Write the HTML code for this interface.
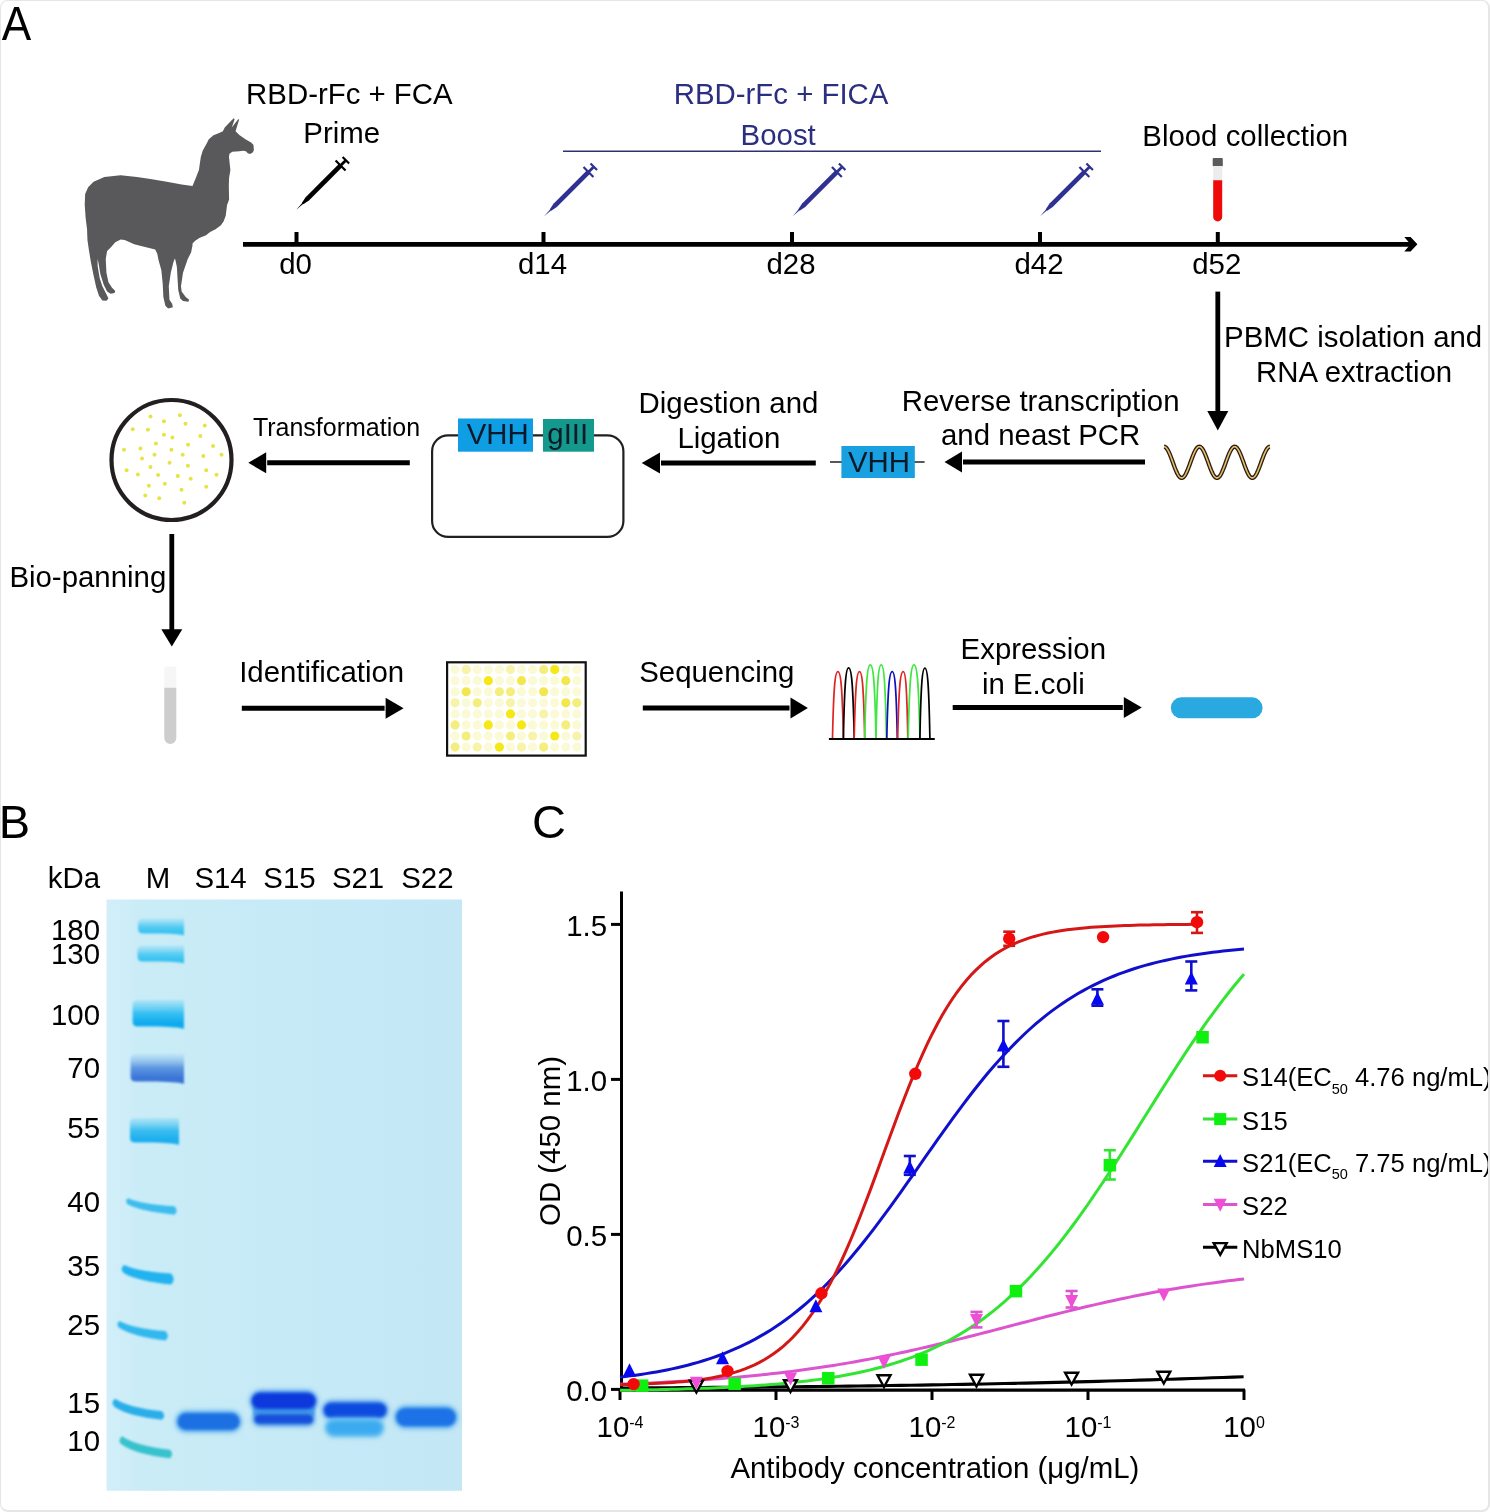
<!DOCTYPE html><html><head><meta charset="utf-8"><style>html,body{margin:0;padding:0;background:#fff;} .fr{position:absolute;left:0;top:0;width:1490px;height:1512px;box-sizing:border-box;border-style:solid;border-color:#e6e6e6;border-width:1px 2px 2px 1px;border-radius:8px;pointer-events:none;} svg{position:absolute;left:0;top:0;will-change:transform;} text{font-family:"Liberation Sans",sans-serif;}</style></head><body>
<svg width="1490" height="1512" viewBox="0 0 1490 1512">
<defs><filter id="blur1" x="-20%" y="-50%" width="140%" height="200%"><feGaussianBlur stdDeviation="1.6"/></filter><filter id="blur2" x="-20%" y="-50%" width="140%" height="200%"><feGaussianBlur stdDeviation="2.4"/></filter><filter id="bl1_0" x="-30%" y="-100%" width="160%" height="300%"><feGaussianBlur stdDeviation="1.0"/></filter><filter id="bl1_1" x="-30%" y="-100%" width="160%" height="300%"><feGaussianBlur stdDeviation="1.1"/></filter><filter id="bl1_6" x="-30%" y="-100%" width="160%" height="300%"><feGaussianBlur stdDeviation="1.6"/></filter><filter id="bl2_5" x="-30%" y="-100%" width="160%" height="300%"><feGaussianBlur stdDeviation="2.5"/></filter><filter id="bl0_7" x="-50%" y="-50%" width="200%" height="200%"><feGaussianBlur stdDeviation="0.7"/></filter><filter id="bl0_5" x="-50%" y="-50%" width="200%" height="200%"><feGaussianBlur stdDeviation="0.5"/></filter><filter id="bl2_2" x="-30%" y="-100%" width="160%" height="300%"><feGaussianBlur stdDeviation="2.2"/></filter><filter id="blur05"><feGaussianBlur stdDeviation="0.5"/></filter></defs>
<text transform="translate(1.7,39.9) scale(0.94,1.04)" x="0" y="0" font-size="47">A</text>
<text x="-1.2" y="837.7" font-size="47" fill="#000" text-anchor="start" >B</text>
<text x="532.1" y="837.7" font-size="47" fill="#000" text-anchor="start" >C</text>
<line x1="243" y1="244.3" x2="1412" y2="244.3" stroke="#000" stroke-width="4.7"/>
<path d="M1404.3,237.1 L1410.6,237.1 L1417.4,244.3 L1410.6,251.6 L1404.3,251.6 L1410.5,244.3 Z" fill="#000"/>
<rect x="294.5" y="232" width="4" height="12" fill="#000"/>
<text x="295.5" y="274.0" font-size="29.4" fill="#000" text-anchor="middle" >d0</text>
<rect x="541.5" y="232" width="4" height="12" fill="#000"/>
<text x="542.5" y="274.0" font-size="29.4" fill="#000" text-anchor="middle" >d14</text>
<rect x="790.0" y="232" width="4" height="12" fill="#000"/>
<text x="791.0" y="274.0" font-size="29.4" fill="#000" text-anchor="middle" >d28</text>
<rect x="1038.0" y="232" width="4" height="12" fill="#000"/>
<text x="1039.0" y="274.0" font-size="29.4" fill="#000" text-anchor="middle" >d42</text>
<rect x="1215.8" y="232" width="4" height="12" fill="#000"/>
<text x="1216.8" y="274.0" font-size="29.4" fill="#000" text-anchor="middle" >d52</text>
<text x="246.1" y="103.8" font-size="29.4" fill="#000" text-anchor="start" >RBD-rFc + FCA</text>
<text x="303.3" y="142.5" font-size="29.4" fill="#000" text-anchor="start" >Prime</text>
<text x="673.7" y="103.8" font-size="29.4" fill="#2c2f80" text-anchor="start" >RBD-rFc + FICA</text>
<text x="740.6" y="145.4" font-size="29.4" fill="#2c2f80" text-anchor="start" >Boost</text>
<line x1="563" y1="151.3" x2="1101" y2="151.3" stroke="#2f3074" stroke-width="1.6"/>
<text x="1142.3" y="146.0" font-size="29.4" fill="#000" text-anchor="start" >Blood collection</text>
<g transform="translate(296.3,209.8) rotate(-45)" fill="#000"><path d="M0,0 L10,-0.8 L10,0.8 Z"/><path d="M9,-1 L16,-2.35 L16,2.35 L9,1 Z"/><rect x="15.5" y="-2.35" width="47" height="4.7"/><rect x="61.5" y="-7" width="2.2" height="14"/><rect x="63" y="-1.4" width="6.5" height="2.8"/><rect x="69" y="-4.6" width="2.2" height="9.2"/></g>
<g transform="translate(544.2,216.3) rotate(-45)" fill="#2e3192"><path d="M0,0 L10,-0.8 L10,0.8 Z"/><path d="M9,-1 L16,-2.35 L16,2.35 L9,1 Z"/><rect x="15.5" y="-2.35" width="47" height="4.7"/><rect x="61.5" y="-7" width="2.2" height="14"/><rect x="63" y="-1.4" width="6.5" height="2.8"/><rect x="69" y="-4.6" width="2.2" height="9.2"/></g>
<g transform="translate(792.6,216.3) rotate(-45)" fill="#2e3192"><path d="M0,0 L10,-0.8 L10,0.8 Z"/><path d="M9,-1 L16,-2.35 L16,2.35 L9,1 Z"/><rect x="15.5" y="-2.35" width="47" height="4.7"/><rect x="61.5" y="-7" width="2.2" height="14"/><rect x="63" y="-1.4" width="6.5" height="2.8"/><rect x="69" y="-4.6" width="2.2" height="9.2"/></g>
<g transform="translate(1040.1,216.3) rotate(-45)" fill="#2e3192"><path d="M0,0 L10,-0.8 L10,0.8 Z"/><path d="M9,-1 L16,-2.35 L16,2.35 L9,1 Z"/><rect x="15.5" y="-2.35" width="47" height="4.7"/><rect x="61.5" y="-7" width="2.2" height="14"/><rect x="63" y="-1.4" width="6.5" height="2.8"/><rect x="69" y="-4.6" width="2.2" height="9.2"/></g>
<rect x="1212.7" y="158" width="10.1" height="8.5" rx="1" fill="#5b5b5b"/>
<rect x="1213.2" y="166" width="9" height="14.5" fill="#ececec"/>
<path d="M1213.2,180.3 L1222.2,180.3 L1222.2,216.9 A4.5,4.5 0 0 1 1213.2,216.9 Z" fill="#ee0a0a"/>
<line x1="1217.8" y1="291.6" x2="1217.8" y2="412" stroke="#000" stroke-width="4.8"/><path d="M1207.3,411 L1228.3,411 L1217.8,430.5 Z" fill="#000"/>
<text x="1224.1" y="346.6" font-size="29.4" fill="#000" text-anchor="start" >PBMC isolation and</text>
<text x="1256.1" y="382.0" font-size="29.4" fill="#000" text-anchor="start" >RNA extraction</text>
<path d="M1164.00,446.70 L1164.35,446.73 L1164.71,446.82 L1165.06,446.98 L1165.41,447.19 L1165.77,447.46 L1166.12,447.80 L1166.47,448.18 L1166.83,448.63 L1167.18,449.13 L1167.53,449.68 L1167.89,450.28 L1168.24,450.93 L1168.59,451.62 L1168.95,452.36 L1169.30,453.13 L1169.65,453.94 L1170.01,454.79 L1170.36,455.66 L1170.71,456.56 L1171.07,457.48 L1171.42,458.42 L1171.77,459.38 L1172.13,460.35 L1172.48,461.32 L1172.83,462.30 L1173.19,463.28 L1173.54,464.26 L1173.89,465.23 L1174.25,466.18 L1174.60,467.12 L1174.95,468.05 L1175.31,468.94 L1175.66,469.82 L1176.01,470.66 L1176.37,471.47 L1176.72,472.25 L1177.07,472.98 L1177.43,473.67 L1177.78,474.32 L1178.13,474.92 L1178.49,475.47 L1178.84,475.97 L1179.19,476.42 L1179.55,476.81 L1179.90,477.14 L1180.25,477.41 L1180.61,477.62 L1180.96,477.78 L1181.31,477.87 L1181.67,477.90 L1182.02,477.87 L1182.37,477.78 L1182.73,477.62 L1183.08,477.41 L1183.43,477.13 L1183.79,476.80 L1184.14,476.41 L1184.49,475.97 L1184.85,475.47 L1185.20,474.92 L1185.55,474.32 L1185.91,473.67 L1186.26,472.97 L1186.61,472.24 L1186.97,471.46 L1187.32,470.65 L1187.67,469.81 L1188.03,468.94 L1188.38,468.04 L1188.73,467.11 L1189.09,466.17 L1189.44,465.22 L1189.79,464.25 L1190.15,463.27 L1190.50,462.29 L1190.85,461.31 L1191.21,460.34 L1191.56,459.37 L1191.91,458.41 L1192.27,457.47 L1192.62,456.55 L1192.97,455.65 L1193.33,454.78 L1193.68,453.93 L1194.03,453.12 L1194.39,452.35 L1194.74,451.62 L1195.09,450.92 L1195.45,450.27 L1195.80,449.67 L1196.15,449.12 L1196.51,448.63 L1196.86,448.18 L1197.21,447.79 L1197.57,447.46 L1197.92,447.19 L1198.27,446.97 L1198.63,446.82 L1198.98,446.73 L1199.33,446.70 L1199.69,446.73 L1200.04,446.82 L1200.39,446.98 L1200.75,447.19 L1201.10,447.47 L1201.45,447.80 L1201.81,448.19 L1202.16,448.63 L1202.51,449.13 L1202.87,449.69 L1203.22,450.29 L1203.57,450.94 L1203.93,451.63 L1204.28,452.36 L1204.63,453.14 L1204.99,453.95 L1205.34,454.79 L1205.69,455.67 L1206.05,456.57 L1206.40,457.49 L1206.75,458.43 L1207.11,459.39 L1207.46,460.36 L1207.81,461.33 L1208.17,462.31 L1208.52,463.29 L1208.87,464.27 L1209.23,465.23 L1209.58,466.19 L1209.93,467.13 L1210.29,468.05 L1210.64,468.95 L1210.99,469.83 L1211.35,470.67 L1211.70,471.48 L1212.05,472.25 L1212.41,472.99 L1212.76,473.68 L1213.11,474.33 L1213.47,474.93 L1213.82,475.48 L1214.17,475.98 L1214.53,476.42 L1214.88,476.81 L1215.23,477.14 L1215.59,477.41 L1215.94,477.63 L1216.29,477.78 L1216.65,477.87 L1217.00,477.90 L1217.35,477.87 L1217.71,477.78 L1218.06,477.62 L1218.41,477.41 L1218.77,477.13 L1219.12,476.80 L1219.47,476.41 L1219.83,475.96 L1220.18,475.46 L1220.53,474.91 L1220.89,474.31 L1221.24,473.66 L1221.59,472.97 L1221.95,472.23 L1222.30,471.46 L1222.65,470.65 L1223.01,469.80 L1223.36,468.93 L1223.71,468.03 L1224.07,467.11 L1224.42,466.16 L1224.77,465.21 L1225.13,464.24 L1225.48,463.26 L1225.83,462.28 L1226.19,461.30 L1226.54,460.33 L1226.89,459.36 L1227.25,458.40 L1227.60,457.46 L1227.95,456.54 L1228.31,455.64 L1228.66,454.77 L1229.01,453.93 L1229.37,453.12 L1229.72,452.34 L1230.07,451.61 L1230.43,450.92 L1230.78,450.27 L1231.13,449.67 L1231.49,449.12 L1231.84,448.62 L1232.19,448.18 L1232.55,447.79 L1232.90,447.46 L1233.25,447.19 L1233.61,446.97 L1233.96,446.82 L1234.31,446.73 L1234.67,446.70 L1235.02,446.73 L1235.37,446.83 L1235.73,446.98 L1236.08,447.19 L1236.43,447.47 L1236.79,447.80 L1237.14,448.19 L1237.49,448.64 L1237.85,449.14 L1238.20,449.69 L1238.55,450.29 L1238.91,450.94 L1239.26,451.64 L1239.61,452.37 L1239.97,453.15 L1240.32,453.96 L1240.67,454.80 L1241.03,455.68 L1241.38,456.58 L1241.73,457.50 L1242.09,458.44 L1242.44,459.40 L1242.79,460.37 L1243.15,461.34 L1243.50,462.32 L1243.85,463.30 L1244.21,464.28 L1244.56,465.24 L1244.91,466.20 L1245.27,467.14 L1245.62,468.06 L1245.97,468.96 L1246.33,469.83 L1246.68,470.68 L1247.03,471.49 L1247.39,472.26 L1247.74,472.99 L1248.09,473.69 L1248.45,474.33 L1248.80,474.93 L1249.15,475.48 L1249.51,475.98 L1249.86,476.42 L1250.21,476.81 L1250.57,477.14 L1250.92,477.42 L1251.27,477.63 L1251.63,477.78 L1251.98,477.87 L1252.33,477.90 L1252.69,477.87 L1253.04,477.77 L1253.39,477.62 L1253.75,477.40 L1254.10,477.13 L1254.45,476.80 L1254.81,476.41 L1255.16,475.96 L1255.51,475.46 L1255.87,474.91 L1256.22,474.30 L1256.57,473.66 L1256.93,472.96 L1257.28,472.22 L1257.63,471.45 L1257.99,470.64 L1258.34,469.79 L1258.69,468.92 L1259.05,468.02 L1259.40,467.10 L1259.75,466.16 L1260.11,465.20 L1260.46,464.23 L1260.81,463.25 L1261.17,462.27 L1261.52,461.29 L1261.87,460.32 L1262.23,459.35 L1262.58,458.40 L1262.93,457.45 L1263.29,456.53 L1263.64,455.63 L1263.99,454.76 L1264.35,453.92 L1264.70,453.11 L1265.05,452.34 L1265.41,451.60 L1265.76,450.91 L1266.11,450.26 L1266.47,449.66 L1266.82,449.11 L1267.17,448.62 L1267.53,448.17 L1267.88,447.79 L1268.23,447.46 L1268.59,447.18 L1268.94,446.97 L1269.29,446.82 L1269.65,446.73 L1270.00,446.70" fill="none" stroke="#2a1c12" stroke-width="4.2" stroke-linecap="butt"/>
<path d="M1164.00,446.70 L1164.35,446.73 L1164.71,446.82 L1165.06,446.98 L1165.41,447.19 L1165.77,447.46 L1166.12,447.80 L1166.47,448.18 L1166.83,448.63 L1167.18,449.13 L1167.53,449.68 L1167.89,450.28 L1168.24,450.93 L1168.59,451.62 L1168.95,452.36 L1169.30,453.13 L1169.65,453.94 L1170.01,454.79 L1170.36,455.66 L1170.71,456.56 L1171.07,457.48 L1171.42,458.42 L1171.77,459.38 L1172.13,460.35 L1172.48,461.32 L1172.83,462.30 L1173.19,463.28 L1173.54,464.26 L1173.89,465.23 L1174.25,466.18 L1174.60,467.12 L1174.95,468.05 L1175.31,468.94 L1175.66,469.82 L1176.01,470.66 L1176.37,471.47 L1176.72,472.25 L1177.07,472.98 L1177.43,473.67 L1177.78,474.32 L1178.13,474.92 L1178.49,475.47 L1178.84,475.97 L1179.19,476.42 L1179.55,476.81 L1179.90,477.14 L1180.25,477.41 L1180.61,477.62 L1180.96,477.78 L1181.31,477.87 L1181.67,477.90 L1182.02,477.87 L1182.37,477.78 L1182.73,477.62 L1183.08,477.41 L1183.43,477.13 L1183.79,476.80 L1184.14,476.41 L1184.49,475.97 L1184.85,475.47 L1185.20,474.92 L1185.55,474.32 L1185.91,473.67 L1186.26,472.97 L1186.61,472.24 L1186.97,471.46 L1187.32,470.65 L1187.67,469.81 L1188.03,468.94 L1188.38,468.04 L1188.73,467.11 L1189.09,466.17 L1189.44,465.22 L1189.79,464.25 L1190.15,463.27 L1190.50,462.29 L1190.85,461.31 L1191.21,460.34 L1191.56,459.37 L1191.91,458.41 L1192.27,457.47 L1192.62,456.55 L1192.97,455.65 L1193.33,454.78 L1193.68,453.93 L1194.03,453.12 L1194.39,452.35 L1194.74,451.62 L1195.09,450.92 L1195.45,450.27 L1195.80,449.67 L1196.15,449.12 L1196.51,448.63 L1196.86,448.18 L1197.21,447.79 L1197.57,447.46 L1197.92,447.19 L1198.27,446.97 L1198.63,446.82 L1198.98,446.73 L1199.33,446.70 L1199.69,446.73 L1200.04,446.82 L1200.39,446.98 L1200.75,447.19 L1201.10,447.47 L1201.45,447.80 L1201.81,448.19 L1202.16,448.63 L1202.51,449.13 L1202.87,449.69 L1203.22,450.29 L1203.57,450.94 L1203.93,451.63 L1204.28,452.36 L1204.63,453.14 L1204.99,453.95 L1205.34,454.79 L1205.69,455.67 L1206.05,456.57 L1206.40,457.49 L1206.75,458.43 L1207.11,459.39 L1207.46,460.36 L1207.81,461.33 L1208.17,462.31 L1208.52,463.29 L1208.87,464.27 L1209.23,465.23 L1209.58,466.19 L1209.93,467.13 L1210.29,468.05 L1210.64,468.95 L1210.99,469.83 L1211.35,470.67 L1211.70,471.48 L1212.05,472.25 L1212.41,472.99 L1212.76,473.68 L1213.11,474.33 L1213.47,474.93 L1213.82,475.48 L1214.17,475.98 L1214.53,476.42 L1214.88,476.81 L1215.23,477.14 L1215.59,477.41 L1215.94,477.63 L1216.29,477.78 L1216.65,477.87 L1217.00,477.90 L1217.35,477.87 L1217.71,477.78 L1218.06,477.62 L1218.41,477.41 L1218.77,477.13 L1219.12,476.80 L1219.47,476.41 L1219.83,475.96 L1220.18,475.46 L1220.53,474.91 L1220.89,474.31 L1221.24,473.66 L1221.59,472.97 L1221.95,472.23 L1222.30,471.46 L1222.65,470.65 L1223.01,469.80 L1223.36,468.93 L1223.71,468.03 L1224.07,467.11 L1224.42,466.16 L1224.77,465.21 L1225.13,464.24 L1225.48,463.26 L1225.83,462.28 L1226.19,461.30 L1226.54,460.33 L1226.89,459.36 L1227.25,458.40 L1227.60,457.46 L1227.95,456.54 L1228.31,455.64 L1228.66,454.77 L1229.01,453.93 L1229.37,453.12 L1229.72,452.34 L1230.07,451.61 L1230.43,450.92 L1230.78,450.27 L1231.13,449.67 L1231.49,449.12 L1231.84,448.62 L1232.19,448.18 L1232.55,447.79 L1232.90,447.46 L1233.25,447.19 L1233.61,446.97 L1233.96,446.82 L1234.31,446.73 L1234.67,446.70 L1235.02,446.73 L1235.37,446.83 L1235.73,446.98 L1236.08,447.19 L1236.43,447.47 L1236.79,447.80 L1237.14,448.19 L1237.49,448.64 L1237.85,449.14 L1238.20,449.69 L1238.55,450.29 L1238.91,450.94 L1239.26,451.64 L1239.61,452.37 L1239.97,453.15 L1240.32,453.96 L1240.67,454.80 L1241.03,455.68 L1241.38,456.58 L1241.73,457.50 L1242.09,458.44 L1242.44,459.40 L1242.79,460.37 L1243.15,461.34 L1243.50,462.32 L1243.85,463.30 L1244.21,464.28 L1244.56,465.24 L1244.91,466.20 L1245.27,467.14 L1245.62,468.06 L1245.97,468.96 L1246.33,469.83 L1246.68,470.68 L1247.03,471.49 L1247.39,472.26 L1247.74,472.99 L1248.09,473.69 L1248.45,474.33 L1248.80,474.93 L1249.15,475.48 L1249.51,475.98 L1249.86,476.42 L1250.21,476.81 L1250.57,477.14 L1250.92,477.42 L1251.27,477.63 L1251.63,477.78 L1251.98,477.87 L1252.33,477.90 L1252.69,477.87 L1253.04,477.77 L1253.39,477.62 L1253.75,477.40 L1254.10,477.13 L1254.45,476.80 L1254.81,476.41 L1255.16,475.96 L1255.51,475.46 L1255.87,474.91 L1256.22,474.30 L1256.57,473.66 L1256.93,472.96 L1257.28,472.22 L1257.63,471.45 L1257.99,470.64 L1258.34,469.79 L1258.69,468.92 L1259.05,468.02 L1259.40,467.10 L1259.75,466.16 L1260.11,465.20 L1260.46,464.23 L1260.81,463.25 L1261.17,462.27 L1261.52,461.29 L1261.87,460.32 L1262.23,459.35 L1262.58,458.40 L1262.93,457.45 L1263.29,456.53 L1263.64,455.63 L1263.99,454.76 L1264.35,453.92 L1264.70,453.11 L1265.05,452.34 L1265.41,451.60 L1265.76,450.91 L1266.11,450.26 L1266.47,449.66 L1266.82,449.11 L1267.17,448.62 L1267.53,448.17 L1267.88,447.79 L1268.23,447.46 L1268.59,447.18 L1268.94,446.97 L1269.29,446.82 L1269.65,446.73 L1270.00,446.70" fill="none" stroke="#e6bf6a" stroke-width="1.6"/>
<line x1="1145" y1="462" x2="963" y2="462" stroke="#000" stroke-width="5"/><path d="M962,451.5 L962,472.5 L944.5,462 Z" fill="#000"/>
<text x="901.8" y="411.0" font-size="29.4" fill="#000" text-anchor="start" >Reverse transcription</text>
<text x="941.0" y="444.9" font-size="29.4" fill="#000" text-anchor="start" >and neast PCR</text>
<line x1="830" y1="462" x2="924.6" y2="462" stroke="#231f20" stroke-width="1.6"/>
<rect x="841.4" y="446" width="73.4" height="32" fill="#18a0e0"/>
<text x="847.9" y="471.6" font-size="29.4" fill="#0b1a2a" text-anchor="start" >VHH</text>
<line x1="815.8" y1="463" x2="661" y2="463" stroke="#000" stroke-width="5"/><path d="M660,452.5 L660,473.5 L641.7,463 Z" fill="#000"/>
<text x="638.6" y="412.9" font-size="29.4" fill="#000" text-anchor="start" >Digestion and</text>
<text x="677.4" y="447.6" font-size="29.4" fill="#000" text-anchor="start" >Ligation</text>
<rect x="432.1" y="435.4" width="191.3" height="101.5" rx="16" fill="none" stroke="#231f20" stroke-width="2.2"/>
<rect x="458" y="418.5" width="75" height="33.2" fill="#0f9de4"/>
<rect x="543" y="419" width="51" height="32.7" fill="#149a8c"/>
<text x="466.7" y="443.6" font-size="29.4" fill="#0b1a2a" text-anchor="start" >VHH</text>
<text x="547.3" y="444.0" font-size="29.4" fill="#0b1a2a" text-anchor="start" >gIII</text>
<line x1="409.8" y1="462.8" x2="267.2" y2="462.8" stroke="#000" stroke-width="5"/><path d="M266.2,452.3 L266.2,473.3 L248.3,462.8 Z" fill="#000"/>
<text x="252.9" y="436.0" font-size="25" fill="#000" text-anchor="start" >Transformation</text>
<circle cx="171.5" cy="460" r="60" fill="#fff" stroke="#231f20" stroke-width="4.2"/>
<circle cx="150.47" cy="416.60" r="2.0" fill="#e6e445" filter="url(#bl0_5)"/>
<circle cx="179.89" cy="415.19" r="2.0" fill="#e6e445" filter="url(#bl0_5)"/>
<circle cx="163.91" cy="421.30" r="2.0" fill="#e6e445" filter="url(#bl0_5)"/>
<circle cx="185.53" cy="423.83" r="2.0" fill="#e6e445" filter="url(#bl0_5)"/>
<circle cx="204.79" cy="425.53" r="2.0" fill="#e6e445" filter="url(#bl0_5)"/>
<circle cx="132.71" cy="429.29" r="2.0" fill="#e6e445" filter="url(#bl0_5)"/>
<circle cx="147.93" cy="429.76" r="2.0" fill="#e6e445" filter="url(#bl0_5)"/>
<circle cx="163.91" cy="434.64" r="2.0" fill="#e6e445" filter="url(#bl0_5)"/>
<circle cx="172.37" cy="437.46" r="2.0" fill="#e6e445" filter="url(#bl0_5)"/>
<circle cx="200.38" cy="436.05" r="2.0" fill="#e6e445" filter="url(#bl0_5)"/>
<circle cx="155.92" cy="443.38" r="2.0" fill="#e6e445" filter="url(#bl0_5)"/>
<circle cx="188.06" cy="444.79" r="2.0" fill="#e6e445" filter="url(#bl0_5)"/>
<circle cx="213.06" cy="445.92" r="2.0" fill="#e6e445" filter="url(#bl0_5)"/>
<circle cx="123.97" cy="449.87" r="2.0" fill="#e6e445" filter="url(#bl0_5)"/>
<circle cx="140.41" cy="448.55" r="2.0" fill="#e6e445" filter="url(#bl0_5)"/>
<circle cx="171.43" cy="449.68" r="2.0" fill="#e6e445" filter="url(#bl0_5)"/>
<circle cx="154.51" cy="454.85" r="2.0" fill="#e6e445" filter="url(#bl0_5)"/>
<circle cx="182.71" cy="454.85" r="2.0" fill="#e6e445" filter="url(#bl0_5)"/>
<circle cx="203.38" cy="456.07" r="2.0" fill="#e6e445" filter="url(#bl0_5)"/>
<circle cx="221.52" cy="454.66" r="2.0" fill="#e6e445" filter="url(#bl0_5)"/>
<circle cx="142.01" cy="458.61" r="2.0" fill="#e6e445" filter="url(#bl0_5)"/>
<circle cx="169.55" cy="462.84" r="2.0" fill="#e6e445" filter="url(#bl0_5)"/>
<circle cx="187.88" cy="465.66" r="2.0" fill="#e6e445" filter="url(#bl0_5)"/>
<circle cx="150.47" cy="466.88" r="2.0" fill="#e6e445" filter="url(#bl0_5)"/>
<circle cx="126.60" cy="470.17" r="2.0" fill="#e6e445" filter="url(#bl0_5)"/>
<circle cx="206.20" cy="470.17" r="2.0" fill="#e6e445" filter="url(#bl0_5)"/>
<circle cx="137.88" cy="474.59" r="2.0" fill="#e6e445" filter="url(#bl0_5)"/>
<circle cx="158.08" cy="475.06" r="2.0" fill="#e6e445" filter="url(#bl0_5)"/>
<circle cx="177.82" cy="476.00" r="2.0" fill="#e6e445" filter="url(#bl0_5)"/>
<circle cx="190.70" cy="478.63" r="2.0" fill="#e6e445" filter="url(#bl0_5)"/>
<circle cx="216.54" cy="474.87" r="2.0" fill="#e6e445" filter="url(#bl0_5)"/>
<circle cx="148.87" cy="485.68" r="2.0" fill="#e6e445" filter="url(#bl0_5)"/>
<circle cx="164.85" cy="483.80" r="2.0" fill="#e6e445" filter="url(#bl0_5)"/>
<circle cx="206.20" cy="486.80" r="2.0" fill="#e6e445" filter="url(#bl0_5)"/>
<circle cx="181.48" cy="489.81" r="2.0" fill="#e6e445" filter="url(#bl0_5)"/>
<circle cx="145.30" cy="495.45" r="2.0" fill="#e6e445" filter="url(#bl0_5)"/>
<circle cx="159.21" cy="498.36" r="2.0" fill="#e6e445" filter="url(#bl0_5)"/>
<circle cx="184.30" cy="502.78" r="2.0" fill="#e6e445" filter="url(#bl0_5)"/>
<line x1="171.8" y1="534" x2="171.8" y2="630.2" stroke="#000" stroke-width="4.8"/><path d="M161.3,629.2 L182.3,629.2 L171.8,646.6 Z" fill="#000"/>
<text x="9.4" y="586.9" font-size="29.4" fill="#000" text-anchor="start" >Bio-panning</text>
<rect x="164.3" y="666.6" width="12" height="22" fill="#f6f6f6"/>
<path d="M164.3,687.7 L176.3,687.7 L176.3,738 A6,6 0 0 1 164.3,738 Z" fill="#cdcdcd"/>
<line x1="241.8" y1="708.3" x2="384.6" y2="708.3" stroke="#000" stroke-width="5"/><path d="M385.6,697.8 L385.6,718.8 L403.6,708.3 Z" fill="#000"/>
<text x="239.2" y="682.0" font-size="29.4" fill="#000" text-anchor="start" >Identification</text>
<rect x="447.1" y="662.3" width="138.6" height="93.3" fill="#fff" stroke="#111" stroke-width="2.2"/>
<circle cx="455.10" cy="669.60" r="4.6" fill="#fafad6" filter="url(#bl0_7)"/>
<circle cx="466.17" cy="669.60" r="4.6" fill="#f7f3a8" filter="url(#bl0_7)"/>
<circle cx="477.24" cy="669.60" r="4.6" fill="#fafad6" filter="url(#bl0_7)"/>
<circle cx="488.31" cy="669.60" r="4.6" fill="#fafad6" filter="url(#bl0_7)"/>
<circle cx="499.38" cy="669.60" r="4.6" fill="#fafad6" filter="url(#bl0_7)"/>
<circle cx="510.45" cy="669.60" r="4.6" fill="#f7f3a8" filter="url(#bl0_7)"/>
<circle cx="521.52" cy="669.60" r="4.6" fill="#fafad6" filter="url(#bl0_7)"/>
<circle cx="532.59" cy="669.60" r="4.6" fill="#fafad6" filter="url(#bl0_7)"/>
<circle cx="543.66" cy="669.60" r="4.6" fill="#f4ee7c" filter="url(#bl0_7)"/>
<circle cx="554.73" cy="669.60" r="4.6" fill="#f6e816" filter="url(#bl0_7)"/>
<circle cx="565.80" cy="669.60" r="4.6" fill="#fafad6" filter="url(#bl0_7)"/>
<circle cx="576.87" cy="669.60" r="4.6" fill="#fafad6" filter="url(#bl0_7)"/>
<circle cx="455.10" cy="680.67" r="4.6" fill="#fafad6" filter="url(#bl0_7)"/>
<circle cx="466.17" cy="680.67" r="4.6" fill="#fafad6" filter="url(#bl0_7)"/>
<circle cx="477.24" cy="680.67" r="4.6" fill="#fafad6" filter="url(#bl0_7)"/>
<circle cx="488.31" cy="680.67" r="4.6" fill="#f6e816" filter="url(#bl0_7)"/>
<circle cx="499.38" cy="680.67" r="4.6" fill="#fafad6" filter="url(#bl0_7)"/>
<circle cx="510.45" cy="680.67" r="4.6" fill="#fafad6" filter="url(#bl0_7)"/>
<circle cx="521.52" cy="680.67" r="4.6" fill="#f2e84e" filter="url(#bl0_7)"/>
<circle cx="532.59" cy="680.67" r="4.6" fill="#fafad6" filter="url(#bl0_7)"/>
<circle cx="543.66" cy="680.67" r="4.6" fill="#fafad6" filter="url(#bl0_7)"/>
<circle cx="554.73" cy="680.67" r="4.6" fill="#fafad6" filter="url(#bl0_7)"/>
<circle cx="565.80" cy="680.67" r="4.6" fill="#f2e84e" filter="url(#bl0_7)"/>
<circle cx="576.87" cy="680.67" r="4.6" fill="#fafad6" filter="url(#bl0_7)"/>
<circle cx="455.10" cy="691.74" r="4.6" fill="#fafad6" filter="url(#bl0_7)"/>
<circle cx="466.17" cy="691.74" r="4.6" fill="#f2e84e" filter="url(#bl0_7)"/>
<circle cx="477.24" cy="691.74" r="4.6" fill="#fafad6" filter="url(#bl0_7)"/>
<circle cx="488.31" cy="691.74" r="4.6" fill="#fafad6" filter="url(#bl0_7)"/>
<circle cx="499.38" cy="691.74" r="4.6" fill="#f4ee7c" filter="url(#bl0_7)"/>
<circle cx="510.45" cy="691.74" r="4.6" fill="#f4ee7c" filter="url(#bl0_7)"/>
<circle cx="521.52" cy="691.74" r="4.6" fill="#fafad6" filter="url(#bl0_7)"/>
<circle cx="532.59" cy="691.74" r="4.6" fill="#fafad6" filter="url(#bl0_7)"/>
<circle cx="543.66" cy="691.74" r="4.6" fill="#f2e84e" filter="url(#bl0_7)"/>
<circle cx="554.73" cy="691.74" r="4.6" fill="#fafad6" filter="url(#bl0_7)"/>
<circle cx="565.80" cy="691.74" r="4.6" fill="#fafad6" filter="url(#bl0_7)"/>
<circle cx="576.87" cy="691.74" r="4.6" fill="#fafad6" filter="url(#bl0_7)"/>
<circle cx="455.10" cy="702.81" r="4.6" fill="#f7f3a8" filter="url(#bl0_7)"/>
<circle cx="466.17" cy="702.81" r="4.6" fill="#fafad6" filter="url(#bl0_7)"/>
<circle cx="477.24" cy="702.81" r="4.6" fill="#f4ee7c" filter="url(#bl0_7)"/>
<circle cx="488.31" cy="702.81" r="4.6" fill="#fafad6" filter="url(#bl0_7)"/>
<circle cx="499.38" cy="702.81" r="4.6" fill="#fafad6" filter="url(#bl0_7)"/>
<circle cx="510.45" cy="702.81" r="4.6" fill="#f7f3a8" filter="url(#bl0_7)"/>
<circle cx="521.52" cy="702.81" r="4.6" fill="#fafad6" filter="url(#bl0_7)"/>
<circle cx="532.59" cy="702.81" r="4.6" fill="#fafad6" filter="url(#bl0_7)"/>
<circle cx="543.66" cy="702.81" r="4.6" fill="#fafad6" filter="url(#bl0_7)"/>
<circle cx="554.73" cy="702.81" r="4.6" fill="#fafad6" filter="url(#bl0_7)"/>
<circle cx="565.80" cy="702.81" r="4.6" fill="#f2e84e" filter="url(#bl0_7)"/>
<circle cx="576.87" cy="702.81" r="4.6" fill="#f4ee7c" filter="url(#bl0_7)"/>
<circle cx="455.10" cy="713.88" r="4.6" fill="#fafad6" filter="url(#bl0_7)"/>
<circle cx="466.17" cy="713.88" r="4.6" fill="#fafad6" filter="url(#bl0_7)"/>
<circle cx="477.24" cy="713.88" r="4.6" fill="#fafad6" filter="url(#bl0_7)"/>
<circle cx="488.31" cy="713.88" r="4.6" fill="#fafad6" filter="url(#bl0_7)"/>
<circle cx="499.38" cy="713.88" r="4.6" fill="#fafad6" filter="url(#bl0_7)"/>
<circle cx="510.45" cy="713.88" r="4.6" fill="#f6e816" filter="url(#bl0_7)"/>
<circle cx="521.52" cy="713.88" r="4.6" fill="#fafad6" filter="url(#bl0_7)"/>
<circle cx="532.59" cy="713.88" r="4.6" fill="#fafad6" filter="url(#bl0_7)"/>
<circle cx="543.66" cy="713.88" r="4.6" fill="#f7f3a8" filter="url(#bl0_7)"/>
<circle cx="554.73" cy="713.88" r="4.6" fill="#fafad6" filter="url(#bl0_7)"/>
<circle cx="565.80" cy="713.88" r="4.6" fill="#fafad6" filter="url(#bl0_7)"/>
<circle cx="576.87" cy="713.88" r="4.6" fill="#fafad6" filter="url(#bl0_7)"/>
<circle cx="455.10" cy="724.95" r="4.6" fill="#f4ee7c" filter="url(#bl0_7)"/>
<circle cx="466.17" cy="724.95" r="4.6" fill="#fafad6" filter="url(#bl0_7)"/>
<circle cx="477.24" cy="724.95" r="4.6" fill="#fafad6" filter="url(#bl0_7)"/>
<circle cx="488.31" cy="724.95" r="4.6" fill="#f6e816" filter="url(#bl0_7)"/>
<circle cx="499.38" cy="724.95" r="4.6" fill="#fafad6" filter="url(#bl0_7)"/>
<circle cx="510.45" cy="724.95" r="4.6" fill="#fafad6" filter="url(#bl0_7)"/>
<circle cx="521.52" cy="724.95" r="4.6" fill="#f6e816" filter="url(#bl0_7)"/>
<circle cx="532.59" cy="724.95" r="4.6" fill="#fafad6" filter="url(#bl0_7)"/>
<circle cx="543.66" cy="724.95" r="4.6" fill="#fafad6" filter="url(#bl0_7)"/>
<circle cx="554.73" cy="724.95" r="4.6" fill="#fafad6" filter="url(#bl0_7)"/>
<circle cx="565.80" cy="724.95" r="4.6" fill="#f4ee7c" filter="url(#bl0_7)"/>
<circle cx="576.87" cy="724.95" r="4.6" fill="#fafad6" filter="url(#bl0_7)"/>
<circle cx="455.10" cy="736.02" r="4.6" fill="#fafad6" filter="url(#bl0_7)"/>
<circle cx="466.17" cy="736.02" r="4.6" fill="#f4ee7c" filter="url(#bl0_7)"/>
<circle cx="477.24" cy="736.02" r="4.6" fill="#fafad6" filter="url(#bl0_7)"/>
<circle cx="488.31" cy="736.02" r="4.6" fill="#fafad6" filter="url(#bl0_7)"/>
<circle cx="499.38" cy="736.02" r="4.6" fill="#fafad6" filter="url(#bl0_7)"/>
<circle cx="510.45" cy="736.02" r="4.6" fill="#f4ee7c" filter="url(#bl0_7)"/>
<circle cx="521.52" cy="736.02" r="4.6" fill="#fafad6" filter="url(#bl0_7)"/>
<circle cx="532.59" cy="736.02" r="4.6" fill="#f7f3a8" filter="url(#bl0_7)"/>
<circle cx="543.66" cy="736.02" r="4.6" fill="#fafad6" filter="url(#bl0_7)"/>
<circle cx="554.73" cy="736.02" r="4.6" fill="#f6e816" filter="url(#bl0_7)"/>
<circle cx="565.80" cy="736.02" r="4.6" fill="#fafad6" filter="url(#bl0_7)"/>
<circle cx="576.87" cy="736.02" r="4.6" fill="#f7f3a8" filter="url(#bl0_7)"/>
<circle cx="455.10" cy="747.09" r="4.6" fill="#f4ee7c" filter="url(#bl0_7)"/>
<circle cx="466.17" cy="747.09" r="4.6" fill="#fafad6" filter="url(#bl0_7)"/>
<circle cx="477.24" cy="747.09" r="4.6" fill="#f7f3a8" filter="url(#bl0_7)"/>
<circle cx="488.31" cy="747.09" r="4.6" fill="#fafad6" filter="url(#bl0_7)"/>
<circle cx="499.38" cy="747.09" r="4.6" fill="#f6e816" filter="url(#bl0_7)"/>
<circle cx="510.45" cy="747.09" r="4.6" fill="#fafad6" filter="url(#bl0_7)"/>
<circle cx="521.52" cy="747.09" r="4.6" fill="#f7f3a8" filter="url(#bl0_7)"/>
<circle cx="532.59" cy="747.09" r="4.6" fill="#fafad6" filter="url(#bl0_7)"/>
<circle cx="543.66" cy="747.09" r="4.6" fill="#f4ee7c" filter="url(#bl0_7)"/>
<circle cx="554.73" cy="747.09" r="4.6" fill="#fafad6" filter="url(#bl0_7)"/>
<circle cx="565.80" cy="747.09" r="4.6" fill="#fafad6" filter="url(#bl0_7)"/>
<circle cx="576.87" cy="747.09" r="4.6" fill="#fafad6" filter="url(#bl0_7)"/>
<line x1="642.8" y1="708" x2="789.5" y2="708" stroke="#000" stroke-width="5"/><path d="M790.5,697.5 L790.5,718.5 L807.9,708 Z" fill="#000"/>
<text x="639.2" y="682.3" font-size="29.4" fill="#000" text-anchor="start" >Sequencing</text>
<path d="M832.5,738.5 C833.58,688.4000000000001 834.93,671.7 837.9,671.7 C840.925,671.7 842.3,688.4000000000001 843.4,738.5" fill="none" stroke="#e02424" stroke-width="1.7"/>
<path d="M843.4,738.5 C844.4399999999999,685.55 845.74,667.9 848.6,667.9 C851.6800000000001,667.9 853.08,685.55 854.2,738.5" fill="none" stroke="#000" stroke-width="1.7"/>
<path d="M854.2,738.5 C855.26,688.4000000000001 856.585,671.7 859.5,671.7 C862.36,671.7 863.6600000000001,688.4000000000001 864.7,738.5" fill="none" stroke="#e02424" stroke-width="1.7"/>
<path d="M864.7,738.5 C865.82,683.3 867.22,664.9 870.3,664.9 C873.435,664.9 874.86,683.3 876,738.5" fill="none" stroke="#3ee83e" stroke-width="1.7"/>
<path d="M876,738.5 C877.04,683.3 878.34,664.9 881.2,664.9 C884.0600000000001,664.9 885.36,683.3 886.4,738.5" fill="none" stroke="#3ee83e" stroke-width="1.7"/>
<path d="M886.8,738.5 C887.88,688.4000000000001 889.23,671.7 892.2,671.7 C895.005,671.7 896.28,688.4000000000001 897.3,738.5" fill="none" stroke="#1010c0" stroke-width="1.7"/>
<path d="M897.7,738.5 C898.8000000000001,688.4000000000001 900.1750000000001,671.7 903.2,671.7 C905.73,671.7 906.88,688.4000000000001 907.8,738.5" fill="none" stroke="#e02424" stroke-width="1.7"/>
<path d="M908.2,738.5 C909.36,683.3 910.8100000000001,664.9 914,664.9 C917.245,664.9 918.72,683.3 919.9,738.5" fill="none" stroke="#3ee83e" stroke-width="1.7"/>
<path d="M919.9,738.5 C920.9,685.7 922.15,668.1 924.9,668.1 C927.65,668.1 928.9,685.7 929.9,738.5" fill="none" stroke="#000" stroke-width="1.7"/>
<line x1="828.9" y1="739.0" x2="934.8" y2="739.0" stroke="#000" stroke-width="2"/>
<line x1="952.7" y1="707.6" x2="1122.8" y2="707.6" stroke="#000" stroke-width="5"/><path d="M1123.8,697.1 L1123.8,718.1 L1141.8,707.6 Z" fill="#000"/>
<text x="960.6" y="658.7" font-size="29.4" fill="#000" text-anchor="start" >Expression</text>
<text x="981.9" y="693.5" font-size="29.4" fill="#000" text-anchor="start" >in E.coli</text>
<rect x="1170.8" y="697.3" width="91.8" height="21" rx="10.5" fill="#2aa9e0"/>
<text x="47.8" y="888.3" font-size="29.4" fill="#000" text-anchor="start" >kDa</text>
<text x="145.8" y="888.3" font-size="29.4" fill="#000" text-anchor="start" >M</text>
<text x="194.4" y="888.3" font-size="29.4" fill="#000" text-anchor="start" >S14</text>
<text x="263.3" y="888.3" font-size="29.4" fill="#000" text-anchor="start" >S15</text>
<text x="331.9" y="888.3" font-size="29.4" fill="#000" text-anchor="start" >S21</text>
<text x="401.2" y="888.3" font-size="29.4" fill="#000" text-anchor="start" >S22</text>
<defs><linearGradient id="gelg" x1="0" y1="0" x2="1" y2="0"><stop offset="0" stop-color="#d2eff9"/><stop offset="0.1" stop-color="#caecf7"/><stop offset="0.5" stop-color="#c6eaf6"/><stop offset="1" stop-color="#c3e7f5"/></linearGradient></defs><rect x="106.5" y="899.5" width="355.5" height="591.3" fill="url(#gelg)"/>
<text x="100.0" y="939.8" font-size="29.4" fill="#000" text-anchor="end" >180</text>
<text x="100.0" y="964.0" font-size="29.4" fill="#000" text-anchor="end" >130</text>
<text x="100.0" y="1025.2" font-size="29.4" fill="#000" text-anchor="end" >100</text>
<text x="100.0" y="1078.3" font-size="29.4" fill="#000" text-anchor="end" >70</text>
<text x="100.0" y="1138.3" font-size="29.4" fill="#000" text-anchor="end" >55</text>
<text x="100.0" y="1212.4" font-size="29.4" fill="#000" text-anchor="end" >40</text>
<text x="100.0" y="1276.2" font-size="29.4" fill="#000" text-anchor="end" >35</text>
<text x="100.0" y="1334.8" font-size="29.4" fill="#000" text-anchor="end" >25</text>
<text x="100.0" y="1413.1" font-size="29.4" fill="#000" text-anchor="end" >15</text>
<text x="100.0" y="1450.8" font-size="29.4" fill="#000" text-anchor="end" >10</text>
<defs><linearGradient id="g1" x1="0" y1="0" x2="0" y2="1"><stop offset="0" stop-color="#78d4f4" stop-opacity="0.25"/><stop offset="0.45" stop-color="#5ccdf2"/><stop offset="0.8" stop-color="#36c2f0"/><stop offset="1" stop-color="#36c2f0"/></linearGradient></defs><path d="M143,918.5 L184,918.5 L184,935.5 Q180,934.1 161.0,933.5 L143,933.5 Q138,933.5 138,928.5 L138,923.5 Q138,918.5 143,918.5 Z" fill="url(#g1)" filter="url(#bl1_1)"/>
<defs><linearGradient id="g2" x1="0" y1="0" x2="0" y2="1"><stop offset="0" stop-color="#78d4f4" stop-opacity="0.25"/><stop offset="0.45" stop-color="#5ccdf2"/><stop offset="0.8" stop-color="#36c2f0"/><stop offset="1" stop-color="#36c2f0"/></linearGradient></defs><path d="M142.5,945.5 L184,945.5 L184,963.5 Q180,962.1 160.75,961.5 L142.5,961.5 Q137.5,961.5 137.5,956.5 L137.5,950.5 Q137.5,945.5 142.5,945.5 Z" fill="url(#g2)" filter="url(#bl1_1)"/>
<defs><linearGradient id="g3" x1="0" y1="0" x2="0" y2="1"><stop offset="0" stop-color="#5ccbf3" stop-opacity="0.25"/><stop offset="0.45" stop-color="#38c0f2"/><stop offset="0.8" stop-color="#0faaee"/><stop offset="1" stop-color="#0faaee"/></linearGradient></defs><path d="M137.6,1000 L184,1000 L184,1029.0 Q180,1027.25 158.3,1026.5 L137.6,1026.5 Q132.6,1026.5 132.6,1021.5 L132.6,1005 Q132.6,1000 137.6,1000 Z" fill="url(#g3)" filter="url(#bl1_1)"/>
<defs><linearGradient id="g4" x1="0" y1="0" x2="0" y2="1"><stop offset="0" stop-color="#98c8f0" stop-opacity="0.25"/><stop offset="0.45" stop-color="#5e98e2"/><stop offset="0.8" stop-color="#3a74d6"/><stop offset="1" stop-color="#3a74d6"/></linearGradient></defs><path d="M135.6,1054 L184,1054 L184,1084.0 Q180,1082.25 157.3,1081.5 L135.6,1081.5 Q130.6,1081.5 130.6,1076.5 L130.6,1059 Q130.6,1054 135.6,1054 Z" fill="url(#g4)" filter="url(#bl1_1)"/>
<defs><linearGradient id="g5" x1="0" y1="0" x2="0" y2="1"><stop offset="0" stop-color="#60ccf3" stop-opacity="0.25"/><stop offset="0.45" stop-color="#3cbef0"/><stop offset="0.8" stop-color="#1eaeee"/><stop offset="1" stop-color="#1eaeee"/></linearGradient></defs><path d="M135,1118 L179,1118 L179,1145.0 Q175,1143.25 154.5,1142.5 L135,1142.5 Q130,1142.5 130,1137.5 L130,1123 Q130,1118 135,1118 Z" fill="url(#g5)" filter="url(#bl1_1)"/>
<path d="M128,1198.2125 Q141.95,1204.16125 174.5,1206.15 Q178.75,1210.4 174.5,1214.65 Q141.95,1211.59875 128,1204.5875 Q124.175,1201.4 128,1198.2125 Z" fill="#3cbcee" filter="url(#bl1_0)"/>
<path d="M124,1264.875 Q138.1,1271.3875 171,1273.5 Q176.5,1279 171,1284.5 Q138.1,1281.0125 124,1273.125 Q119.05,1269 124,1264.875 Z" fill="#22b2ef" filter="url(#bl1_0)"/>
<path d="M119.5,1320.9375 Q133.3,1328.47975 165.5,1331.05 Q170.25,1335.8 165.5,1340.55 Q133.3,1336.79225 119.5,1328.0625 Q115.225,1324.5 119.5,1320.9375 Z" fill="#30b8ee" filter="url(#bl1_0)"/>
<path d="M115,1398.75 Q129.1,1407.75 162,1411.25 Q166.25,1415.5 162,1419.75 Q129.1,1416.25 115,1407.25 Q109.9,1403 115,1398.75 Z" fill="#2aaeea" filter="url(#bl1_0)"/>
<path d="M122,1436.25 Q136.4,1445.97 170,1449.75 Q174.25,1454 170,1458.25 Q136.4,1454.47 122,1444.75 Q116.9,1440.5 122,1436.25 Z" fill="#38c2cc" filter="url(#bl1_0)"/>
<rect x="175.7" y="1410.7" width="65.80000000000001" height="21.59999999999991" rx="10.799999999999955" fill="#58acee" filter="url(#bl2_5)"/><rect x="177.7" y="1413.2" width="61.80000000000001" height="16.59999999999991" rx="8.299999999999955" fill="#1e70e2" filter="url(#bl1_6)"/>
<rect x="253" y="1406" width="62" height="10" fill="#4aa8ee" filter="url(#bl1_6)"/>
<rect x="250.2" y="1390.8" width="67.10000000000002" height="20.40000000000009" rx="10.200000000000045" fill="#2f7ee6" filter="url(#bl2_5)"/><rect x="252.2" y="1393.3" width="63.10000000000002" height="15.400000000000091" rx="7.7000000000000455" fill="#0838dc" filter="url(#bl1_6)"/>
<rect x="252.7" y="1412.0" width="62.10000000000002" height="14.099999999999909" rx="7.0499999999999545" fill="#3d8ee8" filter="url(#bl2_5)"/><rect x="254.7" y="1414.5" width="58.10000000000002" height="9.099999999999909" rx="4.5499999999999545" fill="#1450dc" filter="url(#bl1_6)"/>
<rect x="322.3" y="1400.8" width="65.69999999999999" height="19.100000000000136" rx="9.550000000000068" fill="#3a86e8" filter="url(#bl2_5)"/><rect x="324.3" y="1403.3" width="61.69999999999999" height="14.100000000000136" rx="7.050000000000068" fill="#0a4cdf" filter="url(#bl1_6)"/>
<rect x="324.7" y="1418.2" width="59.60000000000002" height="19.09999999999991" rx="9.549999999999955" fill="#6cc4f2" filter="url(#bl2_5)"/><rect x="326.7" y="1420.7" width="55.60000000000002" height="14.099999999999909" rx="7.0499999999999545" fill="#3aaaf0" filter="url(#bl2_2)"/>
<rect x="394.3" y="1405.7" width="63.30000000000001" height="22.899999999999864" rx="11.449999999999932" fill="#56aaee" filter="url(#bl2_5)"/><rect x="396.3" y="1408.2" width="59.30000000000001" height="17.899999999999864" rx="8.949999999999932" fill="#1a72e6" filter="url(#bl1_6)"/>
<line x1="621.5" y1="891.5" x2="621.5" y2="1391" stroke="#000" stroke-width="3"/>
<line x1="620" y1="1390.2" x2="1245" y2="1390.2" stroke="#000" stroke-width="3.2"/>
<line x1="611" y1="1389.4" x2="622" y2="1389.4" stroke="#000" stroke-width="3"/>
<text x="607.0" y="1401.4" font-size="29.4" fill="#000" text-anchor="end" >0.0</text>
<line x1="611" y1="1234.4" x2="622" y2="1234.4" stroke="#000" stroke-width="3"/>
<text x="607.0" y="1246.4" font-size="29.4" fill="#000" text-anchor="end" >0.5</text>
<line x1="611" y1="1079.4" x2="622" y2="1079.4" stroke="#000" stroke-width="3"/>
<text x="607.0" y="1091.4" font-size="29.4" fill="#000" text-anchor="end" >1.0</text>
<line x1="611" y1="924.4" x2="622" y2="924.4" stroke="#000" stroke-width="3"/>
<text x="607.0" y="936.4" font-size="29.4" fill="#000" text-anchor="end" >1.5</text>
<line x1="620.0" y1="1389.5" x2="620.0" y2="1400" stroke="#000" stroke-width="3"/>
<text x="620.0" y="1436.5" font-size="29.4" text-anchor="middle">10<tspan font-size="16" dy="-9">-4</tspan></text>
<line x1="776.0" y1="1389.5" x2="776.0" y2="1400" stroke="#000" stroke-width="3"/>
<text x="776.0" y="1436.5" font-size="29.4" text-anchor="middle">10<tspan font-size="16" dy="-9">-3</tspan></text>
<line x1="932.0" y1="1389.5" x2="932.0" y2="1400" stroke="#000" stroke-width="3"/>
<text x="932.0" y="1436.5" font-size="29.4" text-anchor="middle">10<tspan font-size="16" dy="-9">-2</tspan></text>
<line x1="1088.0" y1="1389.5" x2="1088.0" y2="1400" stroke="#000" stroke-width="3"/>
<text x="1088.0" y="1436.5" font-size="29.4" text-anchor="middle">10<tspan font-size="16" dy="-9">-1</tspan></text>
<line x1="1244.0" y1="1389.5" x2="1244.0" y2="1400" stroke="#000" stroke-width="3"/>
<text x="1244.0" y="1436.5" font-size="29.4" text-anchor="middle">10<tspan font-size="16" dy="-9">0</tspan></text>
<text x="730.4" y="1478.0" font-size="29.4" fill="#000" text-anchor="start" >Antibody concentration (μg/mL)</text>
<text transform="translate(560.4,1141) rotate(-90)" x="0" y="0" font-size="29.4" text-anchor="middle">OD (450 nm)</text>
<path d="M620.0,1388.00 L630.4,1387.94 L640.8,1387.89 L651.2,1387.83 L661.6,1387.76 L672.0,1387.70 L682.4,1387.64 L692.8,1387.57 L703.1,1387.50 L713.5,1387.42 L723.9,1387.35 L734.3,1387.26 L744.7,1387.18 L755.1,1387.09 L765.5,1387.00 L775.9,1386.91 L786.3,1386.81 L796.7,1386.70 L807.1,1386.59 L817.5,1386.48 L827.9,1386.36 L838.3,1386.24 L848.7,1386.11 L859.0,1385.98 L869.4,1385.84 L879.8,1385.70 L890.2,1385.55 L900.6,1385.40 L911.0,1385.24 L921.4,1385.08 L931.8,1384.91 L942.2,1384.73 L952.6,1384.55 L963.0,1384.36 L973.4,1384.17 L983.8,1383.97 L994.2,1383.76 L1004.6,1383.55 L1014.9,1383.33 L1025.3,1383.10 L1035.7,1382.87 L1046.1,1382.63 L1056.5,1382.38 L1066.9,1382.13 L1077.3,1381.87 L1087.7,1381.60 L1098.1,1381.33 L1108.5,1381.05 L1118.9,1380.76 L1129.3,1380.46 L1139.7,1380.16 L1150.1,1379.85 L1160.5,1379.53 L1170.8,1379.20 L1181.2,1378.87 L1191.6,1378.53 L1202.0,1378.18 L1212.4,1377.82 L1222.8,1377.46 L1233.2,1377.08 L1243.6,1376.70" fill="none" stroke="#000" stroke-width="3.1"/>
<path d="M620.00,1384.23 L625.20,1384.03 L630.40,1383.83 L635.60,1383.61 L640.80,1383.38 L646.00,1383.15 L651.20,1382.91 L656.40,1382.65 L661.60,1382.39 L666.80,1382.11 L672.00,1381.83 L677.20,1381.53 L682.40,1381.22 L687.60,1380.90 L692.80,1380.57 L698.00,1380.23 L703.20,1379.87 L708.40,1379.50 L713.60,1379.11 L718.80,1378.71 L724.00,1378.30 L729.20,1377.87 L734.40,1377.42 L739.60,1376.96 L744.80,1376.48 L750.00,1375.99 L755.20,1375.47 L760.40,1374.94 L765.60,1374.40 L770.80,1373.83 L776.00,1373.24 L781.20,1372.64 L786.40,1372.01 L791.60,1371.37 L796.80,1370.70 L802.00,1370.02 L807.20,1369.31 L812.40,1368.58 L817.60,1367.83 L822.80,1367.06 L828.00,1366.26 L833.20,1365.45 L838.40,1364.61 L843.60,1363.75 L848.80,1362.86 L854.00,1361.95 L859.20,1361.03 L864.40,1360.07 L869.60,1359.10 L874.80,1358.10 L880.00,1357.08 L885.20,1356.04 L890.40,1354.98 L895.60,1353.89 L900.80,1352.79 L906.00,1351.66 L911.20,1350.51 L916.40,1349.35 L921.60,1348.16 L926.80,1346.96 L932.00,1345.74 L937.20,1344.51 L942.40,1343.25 L947.60,1341.99 L952.80,1340.71 L958.00,1339.41 L963.20,1338.11 L968.40,1336.79 L973.60,1335.46 L978.80,1334.13 L984.00,1332.79 L989.20,1331.44 L994.40,1330.09 L999.60,1328.73 L1004.80,1327.37 L1010.00,1326.01 L1015.20,1324.65 L1020.40,1323.29 L1025.60,1321.94 L1030.80,1320.59 L1036.00,1319.24 L1041.20,1317.90 L1046.40,1316.57 L1051.60,1315.24 L1056.80,1313.93 L1062.00,1312.63 L1067.20,1311.34 L1072.40,1310.06 L1077.60,1308.80 L1082.80,1307.55 L1088.00,1306.32 L1093.20,1305.10 L1098.40,1303.91 L1103.60,1302.73 L1108.80,1301.57 L1114.00,1300.43 L1119.20,1299.31 L1124.40,1298.21 L1129.60,1297.13 L1134.80,1296.07 L1140.00,1295.04 L1145.20,1294.02 L1150.40,1293.03 L1155.60,1292.06 L1160.80,1291.12 L1166.00,1290.19 L1171.20,1289.29 L1176.40,1288.42 L1181.60,1287.56 L1186.80,1286.73 L1192.00,1285.92 L1197.20,1285.13 L1202.40,1284.36 L1207.60,1283.62 L1212.80,1282.90 L1218.00,1282.20 L1223.20,1281.52 L1228.40,1280.86 L1233.60,1280.22 L1238.80,1279.60 L1244.00,1279.00" fill="none" stroke="#dc55cf" stroke-width="3"/>
<path d="M620.00,1390.30 L625.20,1390.22 L630.40,1390.14 L635.60,1390.06 L640.80,1389.97 L646.00,1389.87 L651.20,1389.77 L656.40,1389.66 L661.60,1389.54 L666.80,1389.42 L672.00,1389.29 L677.20,1389.15 L682.40,1389.01 L687.60,1388.85 L692.80,1388.69 L698.00,1388.51 L703.20,1388.32 L708.40,1388.13 L713.60,1387.92 L718.80,1387.69 L724.00,1387.46 L729.20,1387.21 L734.40,1386.94 L739.60,1386.66 L744.80,1386.36 L750.00,1386.04 L755.20,1385.70 L760.40,1385.34 L765.60,1384.96 L770.80,1384.55 L776.00,1384.12 L781.20,1383.67 L786.40,1383.19 L791.60,1382.68 L796.80,1382.13 L802.00,1381.56 L807.20,1380.95 L812.40,1380.30 L817.60,1379.62 L822.80,1378.89 L828.00,1378.12 L833.20,1377.30 L838.40,1376.44 L843.60,1375.53 L848.80,1374.56 L854.00,1373.53 L859.20,1372.45 L864.40,1371.30 L869.60,1370.09 L874.80,1368.80 L880.00,1367.45 L885.20,1366.01 L890.40,1364.50 L895.60,1362.90 L900.80,1361.21 L906.00,1359.43 L911.20,1357.54 L916.40,1355.56 L921.60,1353.47 L926.80,1351.27 L932.00,1348.95 L937.20,1346.50 L942.40,1343.94 L947.60,1341.23 L952.80,1338.40 L958.00,1335.42 L963.20,1332.29 L968.40,1329.01 L973.60,1325.57 L978.80,1321.98 L984.00,1318.21 L989.20,1314.27 L994.40,1310.16 L999.60,1305.87 L1004.80,1301.40 L1010.00,1296.74 L1015.20,1291.90 L1020.40,1286.86 L1025.60,1281.63 L1030.80,1276.21 L1036.00,1270.59 L1041.20,1264.78 L1046.40,1258.78 L1051.60,1252.59 L1056.80,1246.21 L1062.00,1239.64 L1067.20,1232.90 L1072.40,1225.98 L1077.60,1218.89 L1082.80,1211.65 L1088.00,1204.25 L1093.20,1196.71 L1098.40,1189.03 L1103.60,1181.23 L1108.80,1173.32 L1114.00,1165.32 L1119.20,1157.23 L1124.40,1149.06 L1129.60,1140.85 L1134.80,1132.58 L1140.00,1124.29 L1145.20,1115.99 L1150.40,1107.70 L1155.60,1099.42 L1160.80,1091.17 L1166.00,1082.97 L1171.20,1074.83 L1176.40,1066.78 L1181.60,1058.81 L1186.80,1050.94 L1192.00,1043.19 L1197.20,1035.57 L1202.40,1028.08 L1207.60,1020.74 L1212.80,1013.56 L1218.00,1006.54 L1223.20,999.69 L1228.40,993.02 L1233.60,986.53 L1238.80,980.22 L1244.00,974.10" fill="none" stroke="#33e433" stroke-width="3"/>
<path d="M620.00,1377.12 L625.20,1376.51 L630.40,1375.86 L635.60,1375.16 L640.80,1374.42 L646.00,1373.63 L651.20,1372.79 L656.40,1371.90 L661.60,1370.94 L666.80,1369.93 L672.00,1368.85 L677.20,1367.70 L682.40,1366.48 L687.60,1365.18 L692.80,1363.80 L698.00,1362.33 L703.20,1360.77 L708.40,1359.12 L713.60,1357.36 L718.80,1355.50 L724.00,1353.53 L729.20,1351.45 L734.40,1349.24 L739.60,1346.90 L744.80,1344.44 L750.00,1341.83 L755.20,1339.08 L760.40,1336.18 L765.60,1333.13 L770.80,1329.91 L776.00,1326.53 L781.20,1322.98 L786.40,1319.26 L791.60,1315.35 L796.80,1311.27 L802.00,1306.99 L807.20,1302.53 L812.40,1297.88 L817.60,1293.04 L822.80,1288.00 L828.00,1282.77 L833.20,1277.35 L838.40,1271.75 L843.60,1265.95 L848.80,1259.98 L854.00,1253.83 L859.20,1247.51 L864.40,1241.03 L869.60,1234.40 L874.80,1227.62 L880.00,1220.72 L885.20,1213.69 L890.40,1206.56 L895.60,1199.34 L900.80,1192.04 L906.00,1184.68 L911.20,1177.27 L916.40,1169.83 L921.60,1162.38 L926.80,1154.94 L932.00,1147.52 L937.20,1140.13 L942.40,1132.80 L947.60,1125.53 L952.80,1118.36 L958.00,1111.28 L963.20,1104.31 L968.40,1097.47 L973.60,1090.76 L978.80,1084.20 L984.00,1077.80 L989.20,1071.57 L994.40,1065.51 L999.60,1059.62 L1004.80,1053.92 L1010.00,1048.41 L1015.20,1043.08 L1020.40,1037.95 L1025.60,1033.01 L1030.80,1028.26 L1036.00,1023.71 L1041.20,1019.34 L1046.40,1015.16 L1051.60,1011.17 L1056.80,1007.35 L1062.00,1003.72 L1067.20,1000.25 L1072.40,996.96 L1077.60,993.82 L1082.80,990.85 L1088.00,988.02 L1093.20,985.34 L1098.40,982.81 L1103.60,980.41 L1108.80,978.14 L1114.00,975.99 L1119.20,973.96 L1124.40,972.05 L1129.60,970.24 L1134.80,968.54 L1140.00,966.93 L1145.20,965.42 L1150.40,964.00 L1155.60,962.66 L1160.80,961.40 L1166.00,960.21 L1171.20,959.10 L1176.40,958.05 L1181.60,957.07 L1186.80,956.14 L1192.00,955.27 L1197.20,954.46 L1202.40,953.69 L1207.60,952.98 L1212.80,952.30 L1218.00,951.67 L1223.20,951.08 L1228.40,950.53 L1233.60,950.01 L1238.80,949.52 L1244.00,949.06" fill="none" stroke="#1010cc" stroke-width="3"/>
<path d="M620.00,1384.67 L624.81,1384.56 L629.62,1384.44 L634.43,1384.31 L639.23,1384.16 L644.04,1383.99 L648.85,1383.80 L653.66,1383.59 L658.47,1383.35 L663.28,1383.08 L668.09,1382.79 L672.90,1382.45 L677.70,1382.08 L682.51,1381.67 L687.32,1381.20 L692.13,1380.68 L696.94,1380.09 L701.75,1379.44 L706.56,1378.71 L711.37,1377.90 L716.17,1376.99 L720.98,1375.97 L725.79,1374.84 L730.60,1373.58 L735.41,1372.17 L740.22,1370.61 L745.03,1368.86 L749.83,1366.92 L754.64,1364.77 L759.45,1362.38 L764.26,1359.73 L769.07,1356.80 L773.88,1353.57 L778.69,1349.99 L783.50,1346.06 L788.30,1341.73 L793.11,1336.99 L797.92,1331.80 L802.73,1326.13 L807.54,1319.96 L812.35,1313.27 L817.16,1306.03 L821.97,1298.22 L826.77,1289.85 L831.58,1280.89 L836.39,1271.36 L841.20,1261.27 L846.01,1250.62 L850.82,1239.47 L855.63,1227.83 L860.43,1215.77 L865.24,1203.33 L870.05,1190.60 L874.86,1177.64 L879.67,1164.53 L884.48,1151.36 L889.29,1138.21 L894.10,1125.16 L898.90,1112.31 L903.71,1099.72 L908.52,1087.48 L913.33,1075.63 L918.14,1064.24 L922.95,1053.35 L927.76,1042.99 L932.57,1033.19 L937.37,1023.96 L942.18,1015.31 L946.99,1007.23 L951.80,999.73 L956.61,992.77 L961.42,986.36 L966.23,980.46 L971.04,975.04 L975.84,970.09 L980.65,965.57 L985.46,961.45 L990.27,957.71 L995.08,954.31 L999.89,951.24 L1004.70,948.46 L1009.50,945.95 L1014.31,943.69 L1019.12,941.65 L1023.93,939.82 L1028.74,938.17 L1033.55,936.69 L1038.36,935.36 L1043.17,934.16 L1047.97,933.09 L1052.78,932.14 L1057.59,931.28 L1062.40,930.51 L1067.21,929.82 L1072.02,929.21 L1076.83,928.66 L1081.64,928.16 L1086.44,927.73 L1091.25,927.33 L1096.06,926.98 L1100.87,926.67 L1105.68,926.39 L1110.49,926.14 L1115.30,925.91 L1120.10,925.71 L1124.91,925.54 L1129.72,925.38 L1134.53,925.24 L1139.34,925.11 L1144.15,925.00 L1148.96,924.89 L1153.77,924.80 L1158.57,924.72 L1163.38,924.65 L1168.19,924.59 L1173.00,924.53 L1177.81,924.48 L1182.62,924.44 L1187.43,924.39 L1192.24,924.36 L1197.04,924.33" fill="none" stroke="#d41818" stroke-width="3"/>
<path d="M696.4,1392.5 L702.9,1380.8 L689.9,1380.8 Z" fill="#fff" stroke="#000" stroke-width="2.4" stroke-linejoin="miter"/>
<path d="M790.5,1392.0 L797.0,1380.3 L784.0,1380.3 Z" fill="#fff" stroke="#000" stroke-width="2.4" stroke-linejoin="miter"/>
<path d="M884.0,1387.0 L890.5,1375.3 L877.5,1375.3 Z" fill="#fff" stroke="#000" stroke-width="2.4" stroke-linejoin="miter"/>
<path d="M976.5,1386.5 L983.0,1374.8 L970.0,1374.8 Z" fill="#fff" stroke="#000" stroke-width="2.4" stroke-linejoin="miter"/>
<path d="M1071.6,1384.5 L1078.1,1372.8 L1065.1,1372.8 Z" fill="#fff" stroke="#000" stroke-width="2.4" stroke-linejoin="miter"/>
<path d="M1163.8,1383.5 L1170.3,1371.8 L1157.3,1371.8 Z" fill="#fff" stroke="#000" stroke-width="2.4" stroke-linejoin="miter"/>
<line x1="976.5" y1="1311.9" x2="976.5" y2="1327.4" stroke="#dc55cf" stroke-width="2.6"/><line x1="970.5" y1="1311.9" x2="982.5" y2="1311.9" stroke="#dc55cf" stroke-width="2.6"/><line x1="970.5" y1="1327.4" x2="982.5" y2="1327.4" stroke="#dc55cf" stroke-width="2.6"/>
<line x1="1071.6" y1="1291" x2="1071.6" y2="1307.5" stroke="#dc55cf" stroke-width="2.6"/><line x1="1065.6" y1="1291" x2="1077.6" y2="1291" stroke="#dc55cf" stroke-width="2.6"/><line x1="1065.6" y1="1307.5" x2="1077.6" y2="1307.5" stroke="#dc55cf" stroke-width="2.6"/>
<path d="M696.4,1389.7 L702.9,1376.7 L689.9,1376.7 Z" fill="#ee4fd6"/>
<path d="M790.5,1385.4 L797.0,1372.4 L784.0,1372.4 Z" fill="#ee4fd6"/>
<path d="M884.0,1369.0 L890.5,1356.0 L877.5,1356.0 Z" fill="#ee4fd6"/>
<path d="M976.5,1327.1 L983.0,1314.1 L970.0,1314.1 Z" fill="#ee4fd6"/>
<path d="M1071.6,1307.9 L1078.1,1294.9 L1065.1,1294.9 Z" fill="#ee4fd6"/>
<path d="M1163.8,1301.4 L1170.3,1288.4 L1157.3,1288.4 Z" fill="#ee4fd6"/>
<line x1="1109.8" y1="1150.2" x2="1109.8" y2="1179.5" stroke="#33e433" stroke-width="2.6"/><line x1="1103.8" y1="1150.2" x2="1115.8" y2="1150.2" stroke="#33e433" stroke-width="2.6"/><line x1="1103.8" y1="1179.5" x2="1115.8" y2="1179.5" stroke="#33e433" stroke-width="2.6"/>
<rect x="635.9" y="1379.4" width="12.5" height="12.5" fill="#10f010"/>
<rect x="728.4" y="1377.6" width="12.5" height="12.5" fill="#10f010"/>
<rect x="822.0" y="1372.0" width="12.5" height="12.5" fill="#10f010"/>
<rect x="915.3" y="1353.4" width="12.5" height="12.5" fill="#10f010"/>
<rect x="1009.7" y="1284.9" width="12.5" height="12.5" fill="#10f010"/>
<rect x="1103.6" y="1159.0" width="12.5" height="12.5" fill="#10f010"/>
<rect x="1196.3" y="1031.0" width="12.5" height="12.5" fill="#10f010"/>
<line x1="909.8" y1="1156" x2="909.8" y2="1174.8" stroke="#1010cc" stroke-width="2.6"/><line x1="903.8" y1="1156" x2="915.8" y2="1156" stroke="#1010cc" stroke-width="2.6"/><line x1="903.8" y1="1174.8" x2="915.8" y2="1174.8" stroke="#1010cc" stroke-width="2.6"/>
<line x1="1003.4" y1="1021" x2="1003.4" y2="1066.8" stroke="#1010cc" stroke-width="2.6"/><line x1="997.4" y1="1021" x2="1009.4" y2="1021" stroke="#1010cc" stroke-width="2.6"/><line x1="997.4" y1="1066.8" x2="1009.4" y2="1066.8" stroke="#1010cc" stroke-width="2.6"/>
<line x1="1097.4" y1="989.3" x2="1097.4" y2="1005.7" stroke="#1010cc" stroke-width="2.6"/><line x1="1091.4" y1="989.3" x2="1103.4" y2="989.3" stroke="#1010cc" stroke-width="2.6"/><line x1="1091.4" y1="1005.7" x2="1103.4" y2="1005.7" stroke="#1010cc" stroke-width="2.6"/>
<line x1="1191.3" y1="961.5" x2="1191.3" y2="990.4" stroke="#1010cc" stroke-width="2.6"/><line x1="1185.3" y1="961.5" x2="1197.3" y2="961.5" stroke="#1010cc" stroke-width="2.6"/><line x1="1185.3" y1="990.4" x2="1197.3" y2="990.4" stroke="#1010cc" stroke-width="2.6"/>
<path d="M629.5,1363.3 L636.0,1376.3 L623.0,1376.3 Z" fill="#0808f0"/>
<path d="M722.5,1351.2 L729.0,1364.2 L716.0,1364.2 Z" fill="#0808f0"/>
<path d="M815.9,1299.2 L822.4,1312.2 L809.4,1312.2 Z" fill="#0808f0"/>
<path d="M909.8,1160.6 L916.3,1173.6 L903.3,1173.6 Z" fill="#0808f0"/>
<path d="M1003.4,1038.5 L1009.9,1051.5 L996.9,1051.5 Z" fill="#0808f0"/>
<path d="M1097.4,991.7 L1103.9,1004.7 L1090.9,1004.7 Z" fill="#0808f0"/>
<path d="M1191.3,971.5 L1197.8,984.5 L1184.8,984.5 Z" fill="#0808f0"/>
<line x1="1009.2" y1="931.7" x2="1009.2" y2="945.8" stroke="#d41818" stroke-width="2.6"/><line x1="1003.2" y1="931.7" x2="1015.2" y2="931.7" stroke="#d41818" stroke-width="2.6"/><line x1="1003.2" y1="945.8" x2="1015.2" y2="945.8" stroke="#d41818" stroke-width="2.6"/>
<line x1="1197.0" y1="912.2" x2="1197.0" y2="932.9" stroke="#d41818" stroke-width="2.6"/><line x1="1191.0" y1="912.2" x2="1203.0" y2="912.2" stroke="#d41818" stroke-width="2.6"/><line x1="1191.0" y1="932.9" x2="1203.0" y2="932.9" stroke="#d41818" stroke-width="2.6"/>
<circle cx="633.6" cy="1384.1" r="6.2" fill="#f20a0a"/>
<circle cx="727.5" cy="1371.1" r="6.2" fill="#f20a0a"/>
<circle cx="821.4" cy="1293.3" r="6.2" fill="#f20a0a"/>
<circle cx="915.3" cy="1073.8" r="6.2" fill="#f20a0a"/>
<circle cx="1009.2" cy="938.7" r="6.2" fill="#f20a0a"/>
<circle cx="1103.1" cy="937.1" r="6.2" fill="#f20a0a"/>
<circle cx="1197.0" cy="922.2" r="6.2" fill="#f20a0a"/>
<line x1="1203" y1="1075.8" x2="1237.3" y2="1075.8" stroke="#d41818" stroke-width="3"/>
<circle cx="1220.2" cy="1075.8" r="6" fill="#f20a0a"/>
<text x="1242.1" y="1086.2" font-size="25.6">S14(EC<tspan font-size="14.5" dy="7.5">50</tspan><tspan dy="-7.5"> 4.76 ng/mL)</tspan></text>
<line x1="1203" y1="1119.1" x2="1237.3" y2="1119.1" stroke="#33e433" stroke-width="3"/>
<rect x="1214.2" y="1113.1" width="12" height="12" fill="#10f010"/>
<text x="1242.1" y="1129.5" font-size="25.6">S15</text>
<line x1="1203" y1="1161.3" x2="1237.3" y2="1161.3" stroke="#1010cc" stroke-width="3"/>
<path d="M1220.2,1154.1 L1226.7,1167.1 L1213.7,1167.1 Z" fill="#0808f0"/>
<text x="1242.1" y="1171.7" font-size="25.6">S21(EC<tspan font-size="14.5" dy="7.5">50</tspan><tspan dy="-7.5"> 7.75 ng/mL)</tspan></text>
<line x1="1203" y1="1204.6" x2="1237.3" y2="1204.6" stroke="#dc55cf" stroke-width="3"/>
<path d="M1220.2,1211.8 L1226.7,1198.8 L1213.7,1198.8 Z" fill="#ee4fd6"/>
<text x="1242.1" y="1215.0" font-size="25.6">S22</text>
<line x1="1203" y1="1247.3" x2="1237.3" y2="1247.3" stroke="#000" stroke-width="3"/>
<path d="M1220.2,1254.8 L1226.7,1243.1 L1213.7,1243.1 Z" fill="#fff" stroke="#000" stroke-width="2.4" stroke-linejoin="miter"/>
<text x="1242.1" y="1257.7" font-size="25.6">NbMS10</text>
<path d="M198.92,169.98 L200.81,156.98 L202.69,150.86 L206.92,142.88 L208.79,139.13 L213.49,135.36 L219.13,133.01 L222.88,131.13 L224.75,127.38 L228.52,123.62 L233.69,118.21 L234.62,119.16 L231.80,127.38 L238.38,118.92 L239.08,119.87 L235.56,131.13 L239.33,134.90 L245.42,139.13 L251.06,142.41 L253.41,144.75 L253.88,149.93 L252.95,152.27 L250.13,153.91 L247.78,153.21 L245.90,151.34 L243.08,150.86 L239.33,151.34 L232.28,151.80 L229.46,153.68 L228.98,156.98 L230.39,169.98 L229.09,177.77 L228.82,185.90 L229.09,199.46 L227.06,204.88 L225.70,215.72 L223.67,221.14 L220.96,225.21 L215.54,229.27 L210.12,231.98 L206.05,235.37 L199.27,238.08 L195.21,240.79 L192.50,243.51 L192.50,245.54 L191.14,252.31 L187.75,259.09 L183.01,272.65 L180.98,286.20 L181.65,291.62 L185.72,297.04 L189.11,299.75 L188.43,301.79 L183.01,301.11 L180.30,298.40 L178.27,290.27 L177.59,279.42 L176.91,267.22 L175.55,260.45 L174.88,258.41 L173.52,261.80 L170.81,272.65 L168.78,286.20 L169.46,299.75 L172.17,303.82 L172.84,307.21 L168.10,308.56 L165.39,305.85 L163.36,297.04 L162.68,283.49 L161.32,269.93 L158.61,260.45 L157.26,253.67 L155.22,249.60 L145.06,246.89 L134.22,244.18 L124.73,240.12 L120.66,239.44 L115.24,242.15 L111.17,246.89 L107.11,250.96 L105.75,259.09 L106.43,272.65 L108.46,282.13 L111.85,287.55 L115.24,290.94 L114.56,292.98 L110.50,293.65 L107.11,291.62 L103.72,284.84 L100.33,274.00 L98.30,261.80 L97.62,259.09 L97.62,265.87 L99.65,278.07 L102.36,286.20 L106.43,294.33 L108.46,298.40 L106.43,300.84 L102.36,300.43 L98.98,295.69 L96.26,287.55 L93.55,275.36 L90.84,261.80 L88.81,249.60 L87.45,240.12 L87.05,229.27 L85.69,218.43 L84.74,204.88 L85.15,194.03 L88.13,187.26 L93.55,181.84 L104.40,177.09 L120.66,175.33 L136.93,177.09 L150.48,179.12 L166.74,181.84 L181.65,184.55 L192.50,185.90 L195.89,177.77 Z" fill="#59585a"/>
</svg><div class="fr"></div></body></html>
